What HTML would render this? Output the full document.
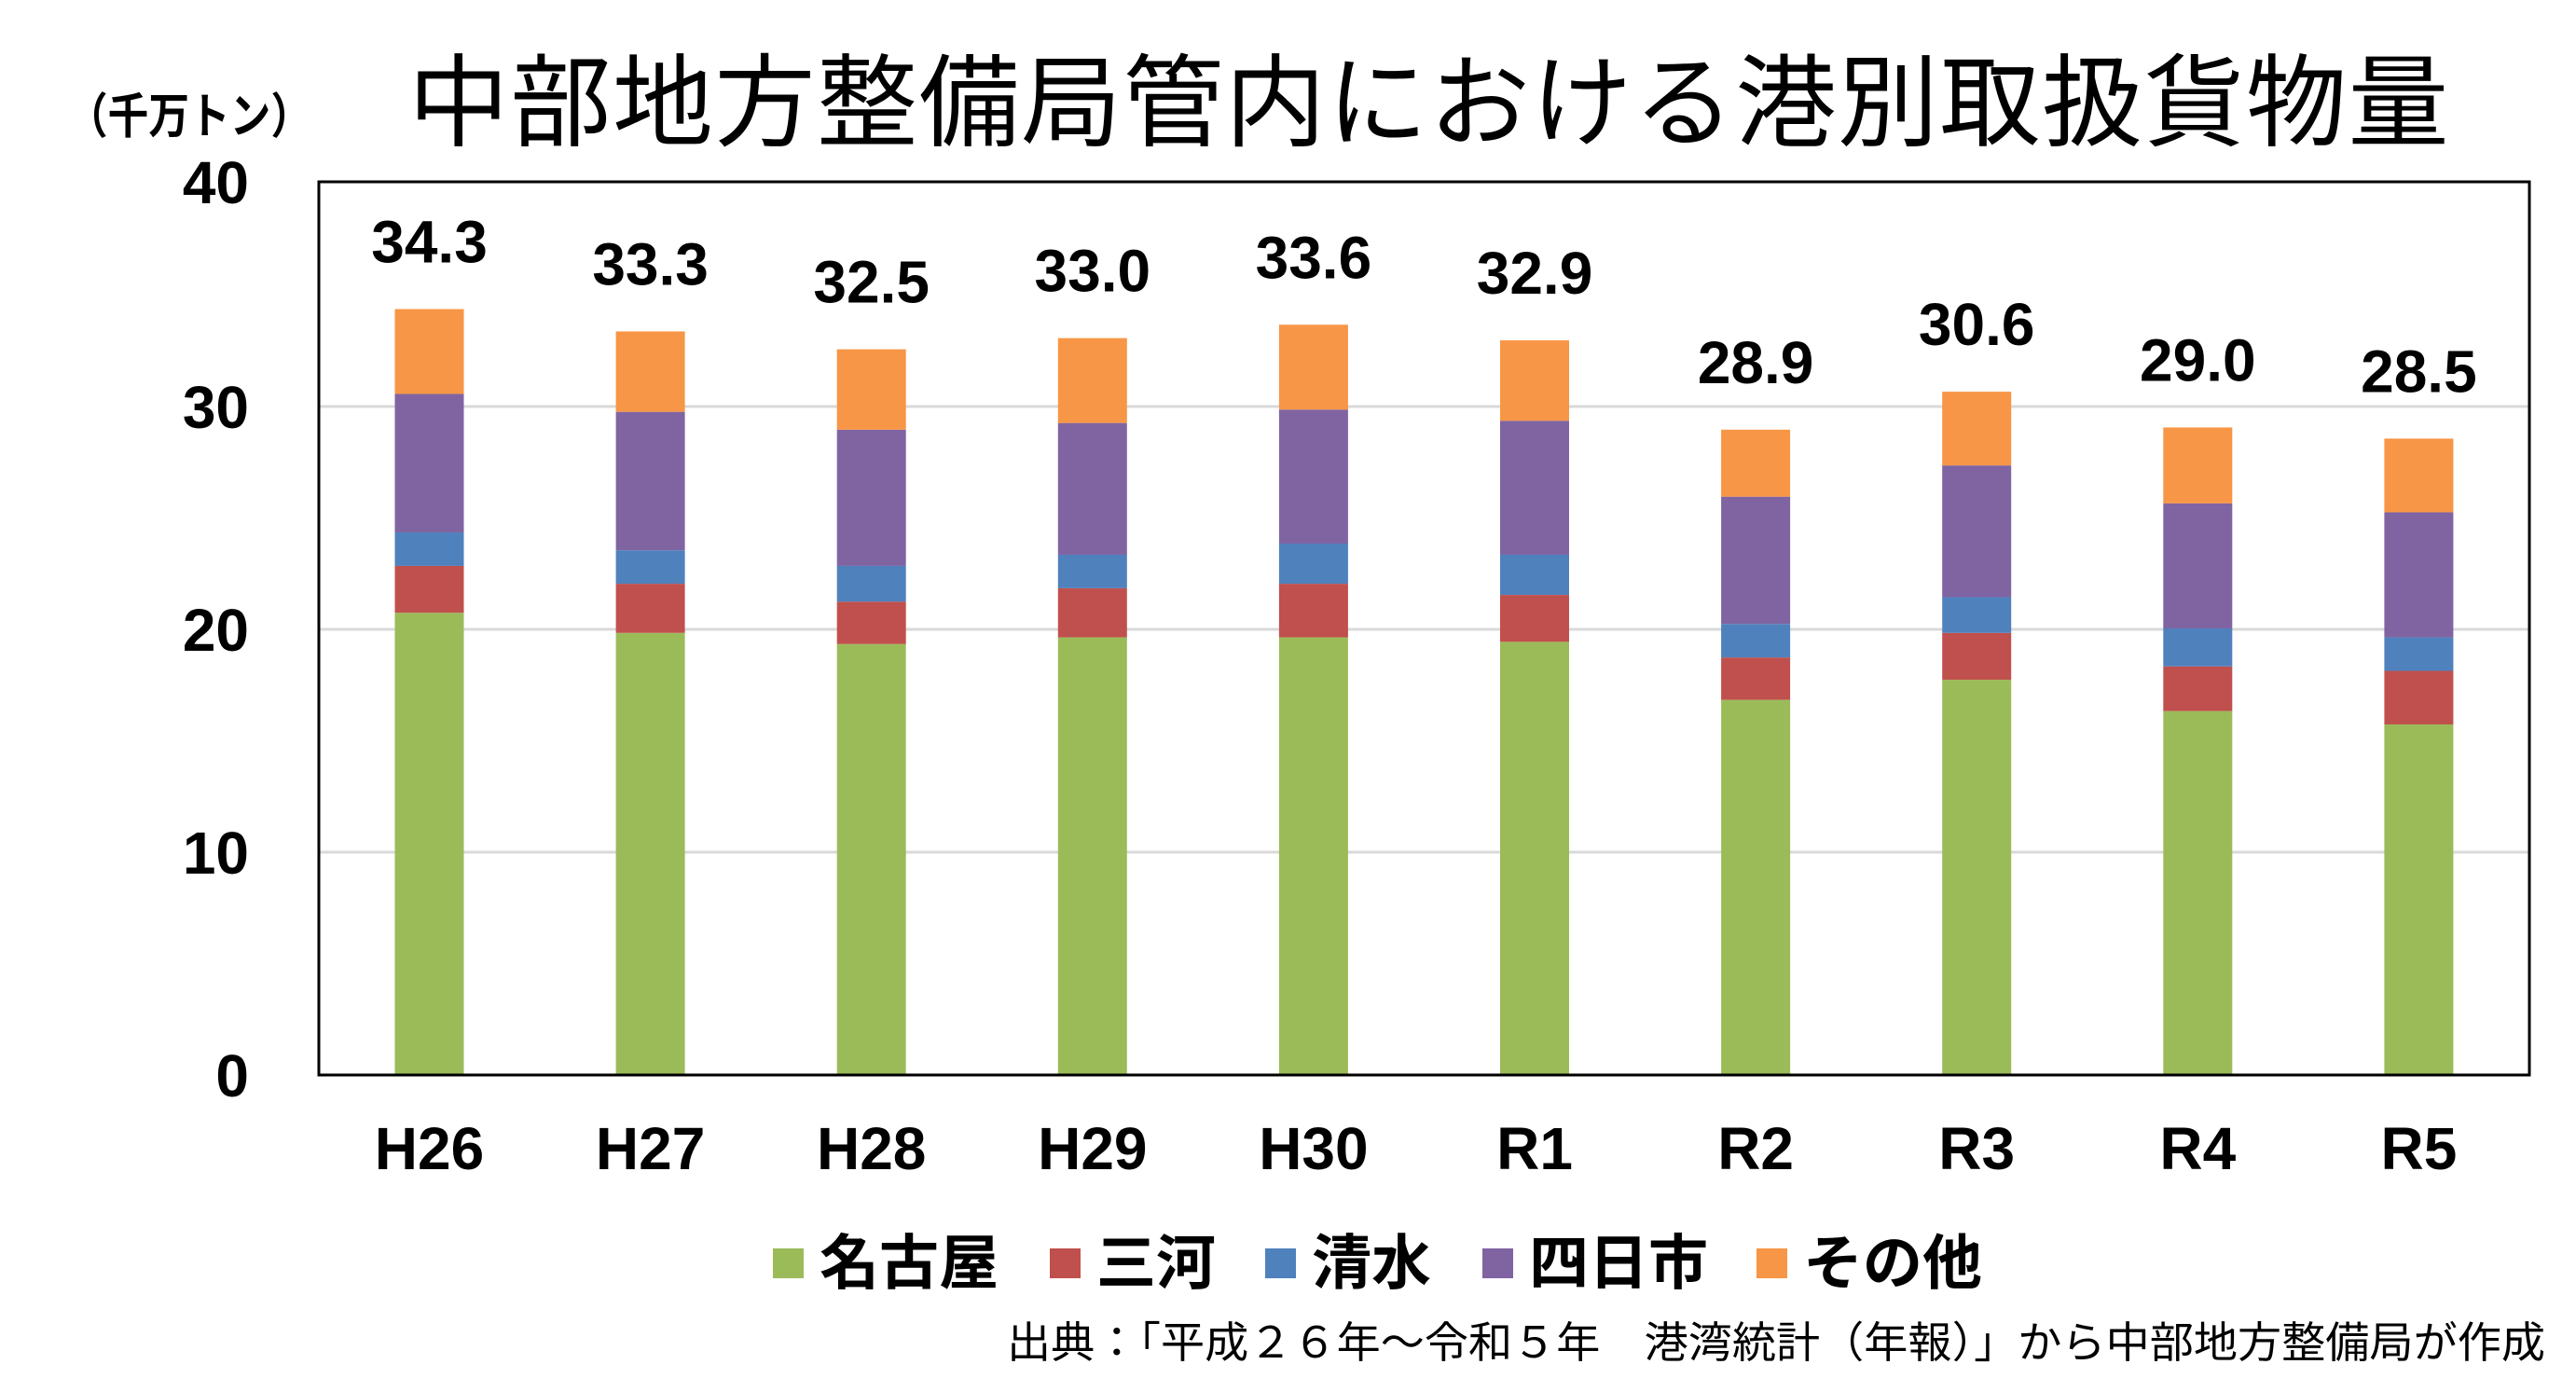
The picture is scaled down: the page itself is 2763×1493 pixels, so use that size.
<!DOCTYPE html>
<html><head><meta charset="utf-8"><style>
html,body{margin:0;padding:0;background:#fff;}
svg{display:block;}
.n{font-family:"Liberation Sans","Noto Sans CJK JP",sans-serif;font-weight:bold;fill:#000;}
.j{font-family:"Liberation Sans","Noto Sans CJK JP",sans-serif;fill:#000;}
</style></head><body>
<svg width="2763" height="1493" viewBox="0 0 2763 1493" xmlns="http://www.w3.org/2000/svg">
<rect width="2763" height="1493" fill="#fff"/>
<text class="j" x="438" y="148" font-size="108" letter-spacing="1.5">中部地方整備局管内における港別取扱貨物量</text>
<text class="j" x="72" y="143" font-size="52" font-weight="bold" textLength="262" lengthAdjust="spacingAndGlyphs">（千万トン）</text>
<g stroke="#d9d9d9" stroke-width="3">
<line x1="342" x2="2713" y1="436" y2="436"/>
<line x1="342" x2="2713" y1="675" y2="675"/>
<line x1="342" x2="2713" y1="914" y2="914"/>
</g>
<g class="n" font-size="64" text-anchor="end">
<text x="267" y="218">40</text>
<text x="267" y="459">30</text>
<text x="267" y="698">20</text>
<text x="267" y="937">10</text>
<text x="267" y="1176">0</text>
</g>
<g id="bars"></g>
<rect x="342" y="195" width="2371" height="958" fill="none" stroke="#000" stroke-width="3"/>
<g class="n" font-size="64" text-anchor="middle" id="xl"></g>
<g class="n" font-size="64" text-anchor="middle" id="vl"></g>
<g>
<rect x="829" y="1339" width="33" height="32" fill="#9bbb59"/>
<rect x="1126" y="1339" width="33" height="32" fill="#c0504d"/>
<rect x="1357" y="1339" width="33" height="32" fill="#4f81bd"/>
<rect x="1590" y="1339" width="33" height="32" fill="#8064a2"/>
<rect x="1884" y="1339" width="33" height="32" fill="#f79646"/>
</g>
<g class="j" font-size="64" font-weight="bold">
<text x="879" y="1377">名古屋</text>
<text x="1176" y="1377">三河</text>
<text x="1407" y="1377">清水</text>
<text x="1640" y="1377">四日市</text>
<text x="1934" y="1377">その他</text>
</g>
<text class="j" x="1080" y="1456" font-size="46" textLength="1650" lengthAdjust="spacingAndGlyphs">出典：「平成２６年～令和５年　港湾統計（年報）」から中部地方整備局が作成</text>
<script>
const d=[["H26",20.7,22.8,24.3,30.5,34.3],["H27",19.8,22.0,23.5,29.7,33.3],["H28",19.3,21.2,22.8,28.9,32.5],["H29",19.6,21.8,23.3,29.2,33.0],["H30",19.6,22.0,23.8,29.8,33.6],["R1",19.4,21.5,23.3,29.3,32.9],["R2",16.8,18.7,20.2,25.9,28.9],["R3",17.7,19.8,21.4,27.3,30.6],["R4",16.3,18.3,20.0,25.6,29.0],["R5",15.7,18.1,19.6,25.2,28.5]];
const c=["#9bbb59","#c0504d","#4f81bd","#8064a2","#f79646"];
const y=v=>1153-v*23.95;const ns="http://www.w3.org/2000/svg";
const B=document.getElementById("bars"),X=document.getElementById("xl"),V=document.getElementById("vl");
d.forEach((r,i)=>{const cx=342+118.5+i*237.1;let prev=0;
for(let k=0;k<5;k++){const e=document.createElementNS(ns,"rect");e.setAttribute("x",cx-37);e.setAttribute("width",74);e.setAttribute("y",y(r[k+1]));e.setAttribute("height",y(prev)-y(r[k+1]));e.setAttribute("fill",c[k]);B.appendChild(e);prev=r[k+1];}
const t=document.createElementNS(ns,"text");t.setAttribute("x",cx);t.setAttribute("y",1254);t.textContent=r[0];X.appendChild(t);
const v=document.createElementNS(ns,"text");v.setAttribute("x",cx);v.setAttribute("y",y(r[5])-50);v.textContent=r[5].toFixed(1);V.appendChild(v);});
</script>
</svg>
</body></html>
